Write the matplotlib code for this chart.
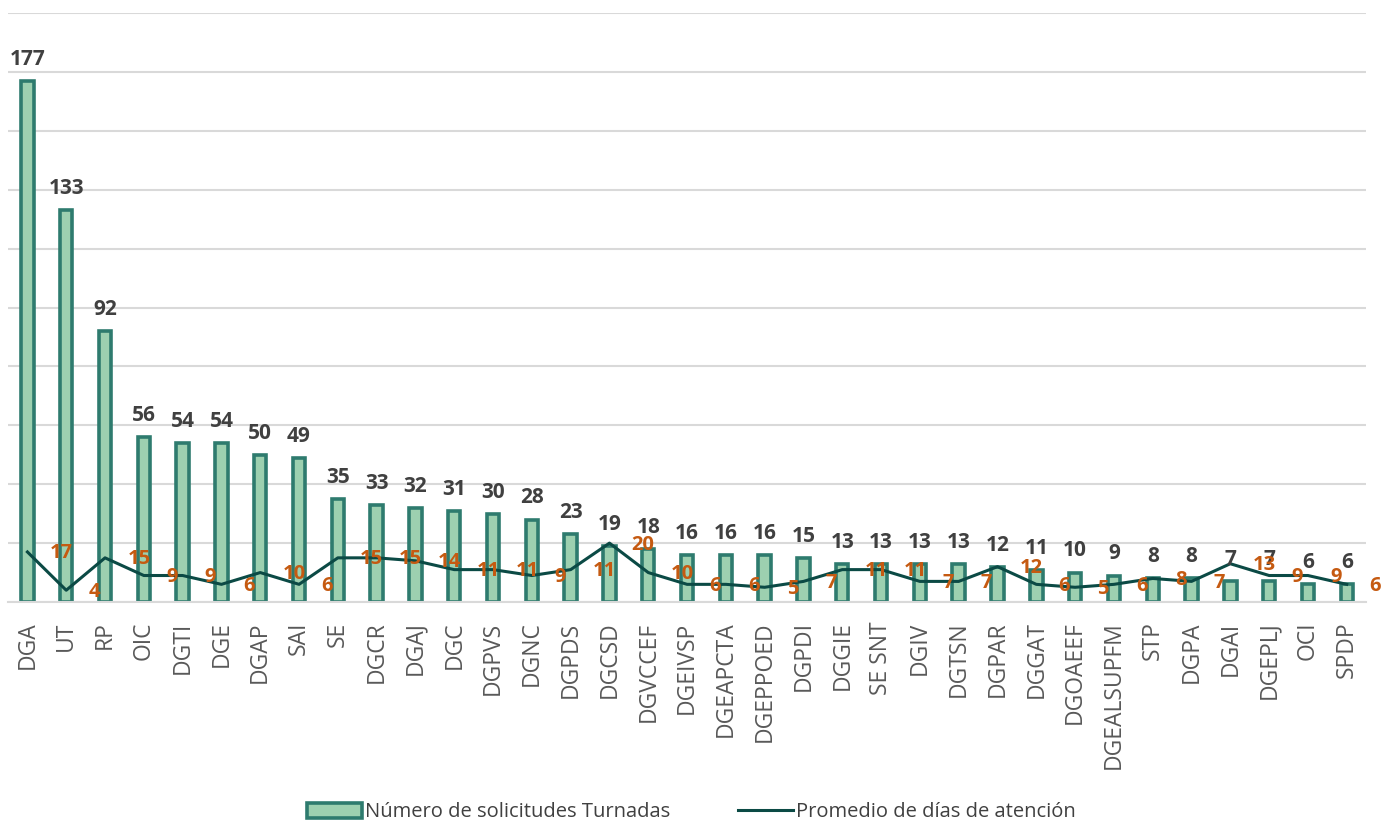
import matplotlib.pyplot as plt
import numpy as np

plt.rcParams['font.family'] = ['Open Sans', 'DejaVu Sans']

unidades = ["DGA", "UT", "RP", "OIC", "DGTI", "DGE", "DGAP", "SAI", "SE", "DGCR",
            "DGAJ", "DGC", "DGPVS", "DGNC", "DGPDS", "DGCSD", "DGVCCEF", "DGEIVSP",
            "DGEAPCTA", "DGEPPOED", "DGPDI", "DGGIE", "SE SNT", "DGIV", "DGTSN",
            "DGPAR", "DGGAT", "DGOAEEF", "DGEALSUPFM", "STP", "DGPA", "DGAI",
            "DGEPLJ", "OCI", "SPDP"]
solicitudes = [177, 133, 92, 56, 54, 54, 50, 49, 35, 33, 32, 31, 30, 28, 23, 19, 18,
               16, 16, 16, 15, 13, 13, 13, 13, 12, 11, 10, 9, 8, 8, 7, 7, 6, 6]
promedio_dias = [17, 4, 15, 9, 9, 6, 10, 6, 15, 15, 14, 11, 11, 9, 11, 20, 10, 6, 6,
                 5, 7, 11, 11, 7, 7, 12, 6, 5, 6, 8, 7, 13, 9, 9, 6]

x = np.arange(len(unidades))

fig = plt.figure(figsize=(13.83, 8.24), dpi=100)
ax = fig.add_axes([0.0058, 0.2694, 0.982, 0.7148])

barras = ax.bar(x, solicitudes, width=0.32, color="#9dd0b0", edgecolor="#2e7b6e",
                linewidth=2.6, zorder=2, label="Número de solicitudes Turnadas")
linea, = ax.plot(x, promedio_dias, color="#0b4a45", linewidth=2.2, zorder=3,
                 label="Promedio de días de atención")

for xi, v in zip(x, solicitudes):
    ax.annotate(str(v), (xi, v), xytext=(0, 8), textcoords="offset points",
                ha="center", va="bottom", fontsize=15, fontweight="bold",
                color="#404040")

for xi, v in zip(x, promedio_dias):
    ax.annotate(str(v), (xi, v), xytext=(16, -1), textcoords="offset points",
                ha="left", va="center", fontsize=14.5, fontweight="bold",
                color="#c55a11", zorder=4, annotation_clip=False)

ax.set_xlim(-0.5, len(unidades) - 0.5)
ax.set_ylim(0, 200)
ax.set_yticks(np.arange(0, 201, 20))
ax.yaxis.grid(True, color="#d9d9d9", linewidth=1.5, zorder=0)
ax.set_axisbelow(True)
ax.tick_params(axis="y", left=False, labelleft=False)
ax.tick_params(axis="x", length=0, pad=14)
ax.set_xticks(x)
ax.set_xticklabels(unidades, rotation=90, fontsize=16.5, color="#595959")
for s in ["left", "right", "top"]:
    ax.spines[s].set_visible(False)
ax.spines["bottom"].set_color("#d9d9d9")
ax.spines["bottom"].set_linewidth(1.5)

fig.legend([barras, linea], ["Número de solicitudes Turnadas", "Promedio de días de atención"],
           loc="lower center", bbox_to_anchor=(0.5, -0.02), ncol=2, frameon=False,
           fontsize=14.5, handlelength=2.7, handleheight=0.8, handletextpad=0.15,
           columnspacing=3.4, labelcolor="#404040")

fig.savefig("out.png", dpi=100)
